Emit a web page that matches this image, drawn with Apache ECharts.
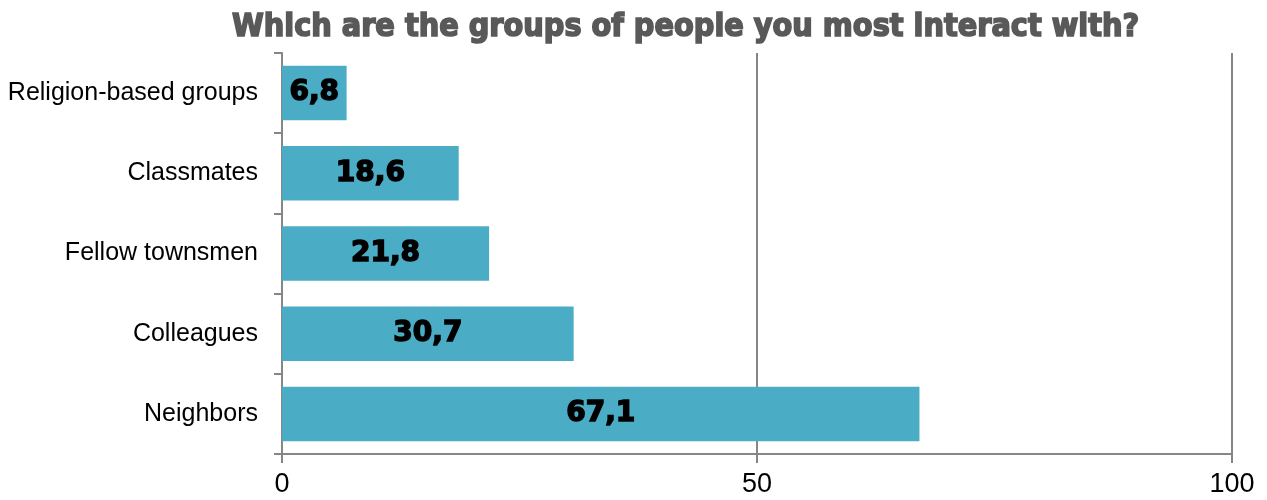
<!DOCTYPE html>
<html>
<head>
<meta charset="utf-8">
<script src="https://cdn.jsdelivr.net/npm/echarts@6/dist/echarts.min.js"></script>
<style>
  html, body { margin: 0; padding: 0; background: #fff; }
  #chart { width: 1267px; height: 500px; }
</style>
</head>
<body>
<div id="chart"></div>
<script>
// categories from bottom to top, as the y axis counts them
var groups = ['Neighbors', 'Colleagues', 'Fellow townsmen', 'Classmates', 'Religion-based groups'];
var shares = [67.1, 30.7, 21.8, 18.6, 6.8];
var xTicks = [0, 50, 100];

var chart = echarts.init(document.getElementById('chart'));
var option = {
    animation: false,
    title: {
        text: 'Which are the groups of people you most interact with?',
        left: 227,
        top: 7,
        textStyle: {
            fontFamily: "'DejaVu Sans Condensed', 'DejaVu Sans'",
            fontWeight: 'bold',
            fontSize: 32,
            color: '#595959',
            textBorderColor: '#595959',
            textBorderWidth: 1.6
        }
    },
    grid: {
        left: 282,
        right: 35,
        top: 53,
        bottom: 46
    },
    xAxis: {
        type: 'value',
        min: xTicks[0],
        max: xTicks[xTicks.length - 1],
        interval: 50,
        axisLine: { show: true, lineStyle: { color: '#868686', width: 2 } },
        axisTick: { show: true, length: 9, lineStyle: { color: '#868686', width: 2 } },
        axisLabel: {
            margin: 17,
            fontFamily: 'Liberation Sans',
            fontSize: 27,
            color: '#000'
        },
        splitLine: { show: true, lineStyle: { color: '#868686', width: 2 } }
    },
    yAxis: {
        type: 'category',
        data: groups,
        axisLine: { show: true, lineStyle: { color: '#868686', width: 2 } },
        axisTick: { show: true, length: 8, lineStyle: { color: '#868686', width: 2 } },
        axisLabel: {
            margin: 24,
            fontFamily: 'Liberation Sans',
            fontSize: 25,
            color: '#000'
        }
    },
    series: [
        {
            type: 'bar',
            data: shares,
            barCategoryGap: '32%',
            itemStyle: { color: '#4BACC6' },
            label: {
                show: true,
                position: 'inside',
                fontFamily: 'DejaVu Sans',
                fontWeight: 'bold',
                fontSize: 28,
                color: '#000',
                textBorderColor: '#000',
                textBorderWidth: 1.5,
                formatter: function (p) {
                    return String(p.value).replace('.', ',');
                }
            }
        }
    ]
};
chart.setOption(option, true);
</script>
</body>
</html>
